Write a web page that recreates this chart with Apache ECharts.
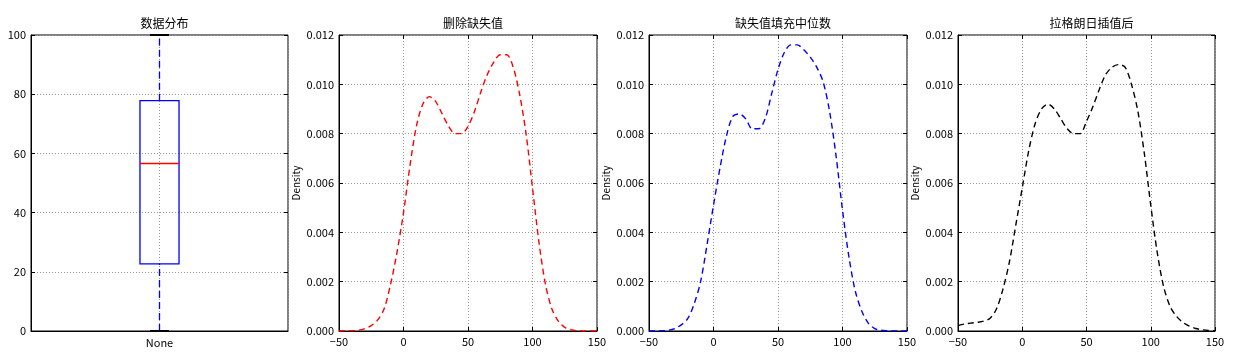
<!DOCTYPE html>
<html><head><meta charset="utf-8">
<script src="https://cdn.jsdelivr.net/npm/echarts@6/dist/echarts.min.js"></script>
<style>html,body{margin:0;padding:0;background:#fff}#c{width:1246px;height:364px}</style>
</head><body><div id="c"></div>
<script>
// ---- data ----
const titles = ['数据分布', '删除缺失值', '缺失值填充中位数', '拉格朗日插值后'];
const boxCategories = ['None'];
const boxStats = [0, 22.7, 56.6, 77.8, 100]; // min, q1, median, q3, max
const boxYTicks = [0, 20, 40, 60, 80, 100];
const densityXTicks = [-50, 0, 50, 100, 150];
const densityX = [-50,-45,-40,-35,-30,-25,-20,-15,-10,-5,0,5,10,15,20,25,30,35,40,45,50,55,60,65,70,75,80,85,90,95,100,105,110,115,120,125,130,135,140,145,150];
const densityDropped = [0,0,0.00001,0.00003,0.0001,0.00022,0.00045,0.0009,0.0019,0.0032,0.0048,0.0067,0.0083,0.0092,0.0095,0.0093,0.0088,0.0083,0.0080,0.0080,0.0083,0.0089,0.0097,0.0104,0.0109,0.0112,0.0112,0.0107,0.0096,0.0080,0.0058,0.0036,0.0019,0.0009,0.0004,0.00015,0.00005,0.00001,0,0,0];
const densityMedian = [0,0,0.00001,0.00003,0.0001,0.00025,0.0005,0.0011,0.002,0.0035,0.0051,0.0066,0.0079,0.0087,0.0088,0.0086,0.0082,0.0082,0.0086,0.0096,0.0106,0.0113,0.0116,0.0116,0.0114,0.0111,0.0107,0.0101,0.0089,0.0071,0.0049,0.0030,0.0016,0.0008,0.00032,0.0001,0.00003,0.00001,0,0,0];
const densityLagrange = [0.00022,0.00028,0.00032,0.00035,0.0004,0.00052,0.0009,0.0017,0.0028,0.0043,0.0058,0.0073,0.0084,0.0090,0.0092,0.0090,0.0086,0.0082,0.0080,0.0080,0.0085,0.0091,0.0098,0.0104,0.0107,0.0108,0.0107,0.0100,0.0089,0.0072,0.0051,0.0032,0.0018,0.0010,0.0006,0.00035,0.0002,0.0001,0.00005,0.00002,0.00001];
const densitySeries = [densityDropped, densityMedian, densityLagrange];
const densityColors = ['#ff0000', '#0000ff', '#000000'];

// ---- layout ----
const grids = [
  {left: 31, top: 35, width: 257, height: 296},
  {left: 339, top: 35, width: 258, height: 296},
  {left: 649, top: 35, width: 258, height: 296},
  {left: 958, top: 35, width: 257, height: 296}
];
const FONT = '"Noto Sans CJK SC", "Noto Sans", sans-serif';
const labelStyle = {color: '#000', fontSize: 11, fontFamily: FONT};
const tickStyle = {show: true, inside: true, length: 4, lineStyle: {color: '#000', width: 1}};
const splitStyle = {show: true, lineStyle: {color: '#999', type: [1, 2], width: 1}};
const lineStyleAxis = {show: true, onZero: false, lineStyle: {color: '#000', width: 1}};
const minus = v => String(v).replace('-', '\u2212');

const xAxes = [], yAxes = [], series = [];

// box plot panel
const boxAxisData = [''].concat(boxCategories, ['']);
xAxes.push({gridIndex: 0, type: 'category', data: boxAxisData, boundaryGap: false,
  axisLine: lineStyleAxis, axisTick: {show: false}, axisLabel: Object.assign({margin: 6}, labelStyle),
  splitLine: splitStyle});
xAxes.push({gridIndex: 0, type: 'category', position: 'top', data: boxAxisData, boundaryGap: false,
  axisLine: {show: false, onZero: false}, axisTick: {show: false}, axisLabel: {show: false}, splitLine: {show: false}});
yAxes.push({gridIndex: 0, type: 'value', min: boxYTicks[0], max: boxYTicks[boxYTicks.length-1], interval: 20,
  axisLine: lineStyleAxis, axisTick: tickStyle, axisLabel: Object.assign({margin: 5}, labelStyle), splitLine: splitStyle});
yAxes.push({gridIndex: 0, type: 'value', position: 'right', min: 0, max: 100, interval: 20,
  axisLine: {show: false, onZero: false}, axisTick: tickStyle, axisLabel: {show: false}, splitLine: {show: false}});

series.push({
  type: 'custom', xAxisIndex: 0, yAxisIndex: 0, clip: false,
  encode: {x: 0, y: [1, 2, 3, 4, 5]},
  data: [[1].concat(boxStats)],
  renderItem: function (params, api) {
    const xi = api.value(0);
    const vals = [1,2,3,4,5].map(i => api.value(i));
    const pts = vals.map(v => api.coord([xi, v]));
    const band = api.size([1, 0])[0];
    const hw = band * 0.152, cw = band * 0.074;
    const cx = pts[0][0];
    const blue = '#0000ff';
    return {type: 'group', children: [
      {type: 'line', shape: {x1: cx, y1: pts[0][1], x2: cx, y2: pts[1][1]}, style: {stroke: blue, lineWidth: 1.3, lineDash: [7, 4]}},
      {type: 'line', shape: {x1: cx, y1: pts[3][1], x2: cx, y2: pts[4][1]}, style: {stroke: blue, lineWidth: 1.3, lineDash: [7, 4]}},
      {type: 'line', shape: {x1: cx - cw, y1: pts[0][1], x2: cx + cw, y2: pts[0][1]}, style: {stroke: '#000', lineWidth: 2}},
      {type: 'line', shape: {x1: cx - cw, y1: pts[4][1], x2: cx + cw, y2: pts[4][1]}, style: {stroke: '#000', lineWidth: 2}},
      {type: 'rect', shape: {x: cx - hw, y: pts[3][1], width: 2 * hw, height: pts[1][1] - pts[3][1]}, style: {stroke: blue, fill: null, lineWidth: 1.3}},
      {type: 'line', shape: {x1: cx - hw, y1: pts[2][1], x2: cx + hw, y2: pts[2][1]}, style: {stroke: '#ff0000', lineWidth: 1.5}}
    ]};
  }
});

// density panels
for (let k = 0; k < 3; k++) {
  const g = k + 1;
  xAxes.push({gridIndex: g, type: 'value', min: densityXTicks[0], max: densityXTicks[densityXTicks.length-1], interval: 50,
    axisLine: lineStyleAxis, axisTick: tickStyle,
    axisLabel: Object.assign({margin: 5, formatter: minus}, labelStyle), splitLine: splitStyle});
  xAxes.push({gridIndex: g, type: 'value', position: 'top', min: -50, max: 150, interval: 50,
    axisLine: {show: false, onZero: false}, axisTick: tickStyle, axisLabel: {show: false}, splitLine: {show: false}});
  yAxes.push({gridIndex: g, type: 'value', min: 0, max: 0.012, interval: 0.002,
    name: 'Density', nameLocation: 'middle', nameGap: 38, nameRotate: 90,
    nameTextStyle: {color: '#000', fontSize: 10, fontFamily: FONT},
    axisLine: lineStyleAxis, axisTick: tickStyle,
    axisLabel: Object.assign({margin: 5, formatter: v => v.toFixed(3)}, labelStyle), splitLine: splitStyle});
  yAxes.push({gridIndex: g, type: 'value', position: 'right', min: 0, max: 0.012, interval: 0.002,
    axisLine: {show: false, onZero: false}, axisTick: tickStyle, axisLabel: {show: false}, splitLine: {show: false}});
  series.push({
    type: 'line', xAxisIndex: 2 * g, yAxisIndex: 2 * g, smooth: 0.3, showSymbol: false, silent: true,
    data: densityX.map((x, i) => [x, densitySeries[k][i]]),
    lineStyle: {color: densityColors[k], width: 1.4, type: [6, 4]}
  });
}

const option = {
  backgroundColor: '#fff',
  animation: false,
  title: grids.map((g, i) => ({
    text: titles[i], left: g.left + g.width / 2, top: 12, textAlign: 'center',
    textStyle: {color: '#000', fontSize: 12, fontWeight: 'normal', fontFamily: FONT}
  })),
  grid: grids.map(g => Object.assign({show: true, borderColor: '#000', borderWidth: 1, backgroundColor: '#fff'}, g)),
  xAxis: xAxes,
  yAxis: yAxes,
  series: series
};
const chart = echarts.init(document.getElementById('c'), null, {renderer: 'canvas'});
chart.setOption(option);
</script></body></html>
